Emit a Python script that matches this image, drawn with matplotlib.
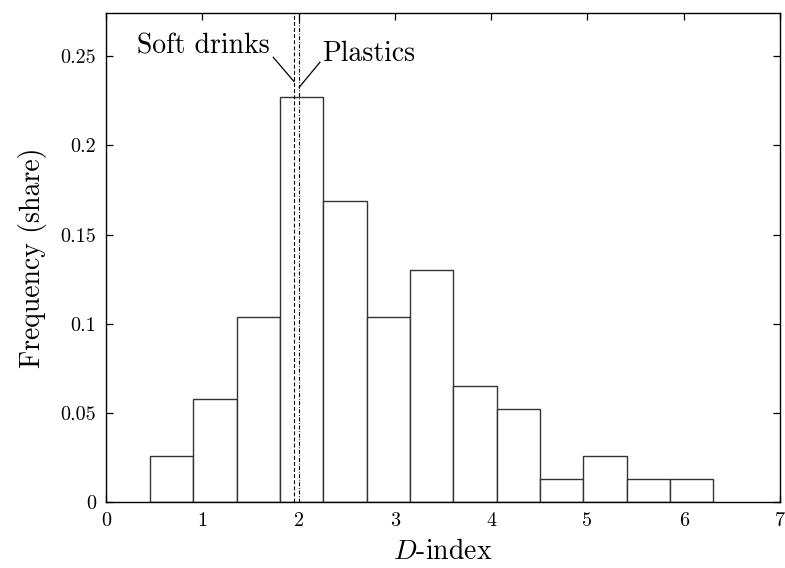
import numpy as np
import matplotlib
matplotlib.use('Agg')
import matplotlib.pyplot as plt

# histogram of D-index, shares per bin
bin_start = 0.457
bin_width = 0.45
shares = [0.026, 0.058, 0.104, 0.227, 0.169, 0.104, 0.130,
          0.065, 0.052, 0.013, 0.026, 0.013, 0.013]

# reference sectors
soft_drinks = 1.953
plastics = 2.007

xticks = [0, 1, 2, 3, 4, 5, 6, 7]
yticks = [0, 0.05, 0.1, 0.15, 0.2, 0.25]
yticklabels = ['0', '0.05', '0.1', '0.15', '0.2', '0.25']

plt.rcParams['font.family'] = 'serif'
plt.rcParams['font.serif'] = ['cmr10', 'DejaVu Serif']
plt.rcParams['mathtext.fontset'] = 'cm'
plt.rcParams['axes.formatter.use_mathtext'] = True

fig = plt.figure(figsize=(7.85, 5.68), dpi=100)
ax = fig.add_axes([0.135, 0.1157, 0.8586, 0.862])

lefts = bin_start + bin_width * np.arange(len(shares))
ax.bar(lefts, shares, width=bin_width, align='edge', color='white',
       edgecolor='#333333', linewidth=1.0, zorder=2)

ax.axvline(soft_drinks, color='black', linestyle=(0, (3.5, 2)), linewidth=0.8, zorder=3)
ax.axvline(plastics, color='black', linestyle=(0, (3.5, 1.5, 0.8, 1.5)), linewidth=0.8, zorder=3)

# labels with leader lines
ax.plot([1.737, soft_drinks], [0.2494, 0.2358], color='black', linewidth=0.9)
ax.plot([2.222, plastics], [0.2466, 0.2326], color='black', linewidth=0.9)
ax.text(1.70, 0.2555, 'Soft drinks', ha='right', va='center', fontsize=20)
ax.text(2.24, 0.2515, 'Plastics', ha='left', va='center', fontsize=20)

ax.set_xlim(0, 7)
ax.set_ylim(0, 0.2744)
ax.set_xticks(xticks)
ax.set_xticklabels([str(t) for t in xticks])
ax.set_yticks(yticks)
ax.set_yticklabels(yticklabels)
ax.tick_params(direction='in', top=True, right=True, length=5, width=0.9,
               labelsize=14.5, pad=7)
for s in ax.spines.values():
    s.set_linewidth(1.0)

ax.set_xlabel(r'$D$-index', fontsize=20, labelpad=6)
ax.set_ylabel('Frequency (share)', fontsize=20, labelpad=10)

fig.savefig('out.png', dpi=100)
